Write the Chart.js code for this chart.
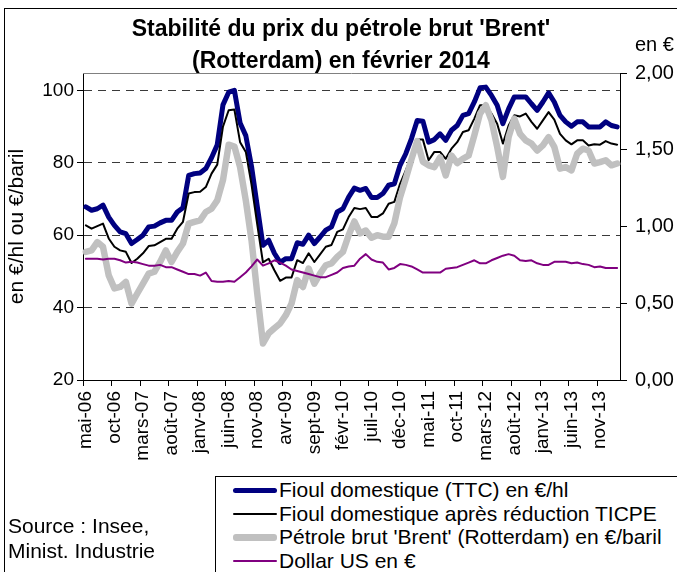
<!DOCTYPE html>
<html lang="fr">
<head>
<meta charset="UTF-8">
<title>Stabilité du prix du pétrole brut 'Brent'</title>
<script src="https://cdn.jsdelivr.net/npm/chart.js@4.4.1/dist/chart.umd.min.js"></script>
<style>
    body { margin: 0; background: #fff; font-family: "Liberation Sans", Arial, sans-serif; color: #000; }
    .wrap { position: relative; width: 677px; height: 572px; overflow: hidden; }
    .frame { position: absolute; left: 4px; top: 8px; width: 700px; height: 600px; border: 1px solid #000; }
    canvas { position: absolute; left: 0; top: 0; }
    .title { position: absolute; left: 0; top: 12px; width: 682px; text-align: center; font-weight: bold; font-size: 23px; line-height: 32px; }
    .unit-right { position: absolute; left: 635px; top: 33px; font-size: 20px; }
    .source { position: absolute; left: 8px; top: 513px; font-size: 21px; line-height: 25px; }
    .legend { position: absolute; left: 215px; top: 476px; width: 480px; height: 120px; border: 1px solid #000; background: #fff; }
    .legend .row { position: absolute; left: 17px; height: 24px; display: flex; align-items: center; font-size: 21px; white-space: nowrap; }
    .legend .swatch { width: 44px; margin-right: 2px; border-radius: 3px; }
</style>
</head>
<body>
<div class="wrap">
    <div class="frame"></div>
    <canvas id="chart" width="677" height="572"></canvas>
    <div class="title">Stabilité du prix du pétrole brut 'Brent'<br>(Rotterdam) en février 2014</div>
    <div class="unit-right">en €</div>
    <div class="source">Source : Insee,<br>Minist. Industrie</div>
    <div class="legend">
        <div class="row" style="top:1px"><div class="swatch" style="height:5px;background:#000080"></div>Fioul domestique (TTC) en €/hl</div>
        <div class="row" style="top:25px"><div class="swatch" style="height:2px;background:#000"></div>Fioul domestique après réduction TICPE</div>
        <div class="row" style="top:48px"><div class="swatch" style="height:7px;background:#c0c0c0"></div>Pétrole brut 'Brent' (Rotterdam) en €/baril</div>
        <div class="row" style="top:72px"><div class="swatch" style="height:2px;background:#800080"></div>Dollar US en €</div>
    </div>
</div>

<script>
    // months mai-06 .. févr-14
    const monthNames = ['janv', 'févr', 'mars', 'avr', 'mai', 'juin', 'juil', 'août', 'sept', 'oct', 'nov', 'déc'];
    const months = [];
    for (let y = 2006, m = 4; months.length < 94; m++) {
        if (m === 12) { m = 0; y++; }
        months.push(monthNames[m] + '-' + String(y).slice(2));
    }

    const fioulTTC = [
        67.8, 66.9, 67.3, 68.3, 65.0, 62.7, 60.9, 60.4, 57.7, 58.8,
        60.0, 62.3, 62.5, 63.4, 64.1, 64.1, 66.4, 67.6, 76.5, 77.0,
        77.2, 78.4, 81.4, 85.0, 96.0, 99.5, 100.0, 91.0, 87.5, 79.0,
        68.0, 57.2, 58.6, 55.0, 52.5, 53.5, 53.5, 57.9, 57.5, 60.0,
        57.7, 59.5, 61.4, 62.3, 66.4, 67.3, 70.5, 73.0, 72.4, 72.9,
        70.4, 70.4, 71.5, 73.8, 74.2, 79.3, 82.5, 86.7, 91.7, 91.5,
        85.7, 86.4, 88.0, 86.2, 89.0, 90.3, 93.1, 93.6, 96.8, 100.7,
        100.9, 98.6, 95.9, 90.8, 94.9, 98.2, 98.2, 98.2, 96.3, 94.5,
        96.8, 99.3, 96.8, 93.1, 91.3, 90.1, 91.3, 91.3, 89.9, 89.9,
        89.9, 91.3, 90.3, 89.9
    ];
    const fioulTICPE = [
        62.7, 61.8, 62.5, 63.2, 59.1, 56.8, 55.8, 55.4, 52.3, 53.5,
        55.0, 57.0, 57.2, 58.1, 59.0, 59.0, 61.8, 63.7, 71.5, 71.9,
        72.0, 73.3, 77.0, 79.5, 90.0, 94.5, 94.7, 85.7, 83.0, 74.0,
        63.0, 52.5, 53.5, 50.3, 47.4, 48.3, 48.3, 53.1, 52.3, 55.0,
        52.6, 54.7, 56.8, 57.3, 60.9, 61.6, 65.0, 67.5, 67.2, 67.5,
        65.0, 65.0, 66.0, 68.7, 69.2, 74.2, 77.9, 81.8, 86.4, 86.4,
        80.7, 83.0, 83.0, 81.1, 83.9, 85.7, 88.5, 89.0, 92.2, 95.9,
        95.9, 93.6, 90.8, 85.3, 90.3, 93.1, 92.8, 93.6, 91.3, 89.4,
        91.7, 94.0, 91.9, 88.0, 86.2, 85.1, 86.2, 86.2, 84.8, 85.1,
        85.0, 86.0, 85.3, 85.0
    ];
    const brent = [
        55.4, 55.8, 58.1, 56.8, 48.9, 45.3, 45.7, 47.1, 41.1, 43.9,
        46.6, 49.4, 49.9, 52.6, 55.8, 52.6, 55.4, 57.7, 63.2, 63.7,
        64.1, 66.4, 67.3, 69.6, 75.2, 85.0, 84.5, 78.8, 69.6, 58.6,
        43.9, 30.1, 32.9, 34.3, 35.6, 37.9, 41.1, 47.6, 45.7, 50.8,
        46.6, 49.4, 51.7, 52.2, 54.0, 55.4, 60.0, 63.8, 60.5, 61.3,
        59.3, 60.0, 59.6, 59.6, 63.3, 70.5, 75.6, 81.0, 86.0, 80.3,
        79.3, 78.8, 81.5, 76.5, 82.0, 79.9, 81.1, 82.0, 87.6, 93.6,
        95.9, 91.7, 84.4, 76.1, 87.1, 92.2, 88.0, 86.2, 85.3, 83.4,
        84.8, 87.1, 84.4, 78.4, 78.8, 77.9, 82.5, 83.9, 83.4, 79.8,
        80.2, 80.7, 79.3, 79.8
    ];
    const dollar = [
        0.79, 0.79, 0.79, 0.785, 0.79, 0.79, 0.78, 0.765, 0.77, 0.765,
        0.755, 0.745, 0.745, 0.75, 0.735, 0.735, 0.72, 0.705, 0.69, 0.69,
        0.68, 0.70, 0.645, 0.64, 0.64, 0.645, 0.64, 0.67, 0.70, 0.74,
        0.785, 0.745, 0.76, 0.78, 0.765, 0.745, 0.72, 0.71, 0.70, 0.69,
        0.68, 0.67, 0.67, 0.685, 0.70, 0.73, 0.74, 0.745, 0.79, 0.82,
        0.785, 0.77, 0.765, 0.72, 0.73, 0.755, 0.75, 0.74, 0.72, 0.70,
        0.70, 0.70, 0.70, 0.725, 0.73, 0.735, 0.75, 0.765, 0.78, 0.76,
        0.76, 0.78, 0.795, 0.81, 0.82, 0.81, 0.78, 0.775, 0.78, 0.76,
        0.75, 0.75, 0.77, 0.77, 0.77, 0.76, 0.765, 0.755, 0.75, 0.735,
        0.74, 0.73, 0.73, 0.73
    ];
    const leftTicks = [20, 40, 60, 80, 100];

    const font = { family: '"Liberation Sans", Arial, sans-serif', size: 19 };

    // grey frame on top of the plot area
    const plotTop = {
        id: 'plotTop',
        afterDraw(chart) {
            const { ctx, chartArea: a } = chart;
            ctx.save();
            ctx.strokeStyle = '#808080';
            ctx.lineWidth = 1;
            ctx.beginPath();
            ctx.moveTo(a.left, Math.round(a.top) + 0.5);
            ctx.lineTo(a.right, Math.round(a.top) + 0.5);
            ctx.stroke();
            ctx.restore();
        }
    };

    const line = (label, data, color, width, order, axis) => ({
        label, data, borderColor: color, backgroundColor: color, borderWidth: width,
        pointRadius: 0, tension: 0, order, yAxisID: axis,
        borderJoinStyle: 'round', borderCapStyle: 'round'
    });

    new Chart(document.getElementById('chart'), {
        type: 'line',
        data: {
            labels: months,
            datasets: [
                line('Fioul domestique (TTC) en €/hl', fioulTTC, '#000080', 5, 4, 'y'),
                line('Fioul domestique après réduction TICPE', fioulTICPE, '#000000', 2, 3, 'y'),
                line("Pétrole brut 'Brent' (Rotterdam) en €/baril", brent, '#c0c0c0', 6.5, 2, 'y'),
                line('Dollar US en €', dollar, '#800080', 2, 1, 'y1')
            ]
        },
        options: {
            responsive: false,
            animation: false,
            layout: { padding: { top: 73, left: 0, right: 0, bottom: 0 } },
            plugins: { legend: { display: false }, tooltip: { enabled: false } },
            scales: {
                x: {
                    offset: true,
                    afterFit: s => { s.height = 192; },
                    border: { color: '#000', width: 1 },
                    grid: {
                        offset: true,
                        drawOnChartArea: false,
                        tickLength: 6,
                        color: c => (c.index !== undefined && c.index % 5 === 0) ? '#000' : 'rgba(0,0,0,0)',
                        tickColor: c => (c.index !== undefined && c.index % 5 === 0) ? '#000' : 'rgba(0,0,0,0)'
                    },
                    ticks: {
                        autoSkip: false,
                        minRotation: 90,
                        maxRotation: 90,
                        padding: 5,
                        color: '#000',
                        font,
                        callback: (v, i) => i % 5 === 0 ? months[i] : ''
                    }
                },
                y: {
                    position: 'left',
                    min: 20,
                    max: 104.8,
                    afterFit: s => { s.width = 83; },
                    afterBuildTicks: s => { s.ticks = leftTicks.map(v => ({ value: v })); },
                    border: { color: '#000', width: 1, dash: [8, 6] },
                    grid: {
                        color: c => c.tick && c.tick.value === 20 ? 'rgba(0,0,0,0)' : '#3a3a3a',
                        tickColor: '#000',
                        tickBorderDash: [],
                        tickLength: 6
                    },
                    ticks: { color: '#000', font, padding: 3 },
                    title: {
                        display: true,
                        text: 'en €/hl ou €/baril',
                        color: '#000',
                        font: { family: font.family, size: 21 },
                        padding: { top: 5, bottom: 0 }
                    }
                },
                y1: {
                    position: 'right',
                    min: 0,
                    max: 2,
                    afterFit: s => { s.width = 57; },
                    border: { color: '#000', width: 1 },
                    grid: { drawOnChartArea: false, tickLength: 7, tickColor: '#000' },
                    ticks: {
                        stepSize: 0.5,
                        color: '#000',
                        font: { family: font.family, size: 20 },
                        padding: 8,
                        callback: v => v.toFixed(2).replace('.', ',')
                    }
                }
            }
        },
        plugins: [plotTop]
    });
</script>
</body>
</html>
